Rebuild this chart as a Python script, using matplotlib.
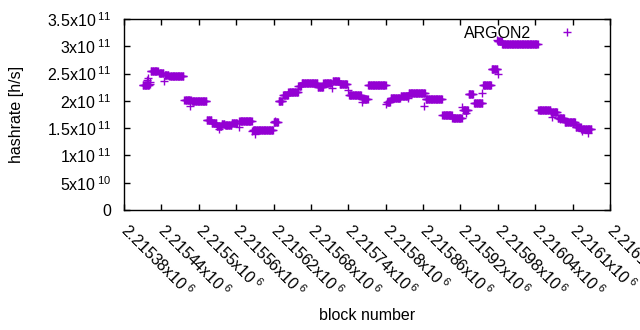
import numpy as np
import matplotlib
matplotlib.use("Agg")
import matplotlib.pyplot as plt
from matplotlib.ticker import FuncFormatter, MultipleLocator

plt.rcParams['font.family'] = ['Liberation Sans', 'DejaVu Sans']
plt.rcParams['mathtext.fontset'] = 'custom'
plt.rcParams['mathtext.rm'] = 'Liberation Sans'
plt.rcParams['mathtext.it'] = 'Liberation Sans'
plt.rcParams['font.size'] = 11.5

# hashrate plateaus: first block, last block, hashrate (x1e11 h/s)
seg_start = [2215410, 2215423, 2215436, 2215445, 2215453, 2215477, 2215489, 2215513,
             2215521, 2215529, 2215537, 2215542, 2215553, 2215565, 2215587, 2215620,
             2215628, 2215635, 2215644, 2215660, 2215665, 2215691, 2215700, 2215715,
             2215726, 2215741, 2215762, 2215772, 2215802, 2215808, 2215824, 2215837,
             2215864, 2215891, 2215907, 2215924, 2215933, 2215942, 2215956, 2215970,
             2215980, 2215987, 2216045, 2216065, 2216076, 2216087, 2216105, 2216114]
seg_end = [2215420, 2215434, 2215443, 2215451, 2215475, 2215487, 2215512, 2215520,
           2215528, 2215536, 2215541, 2215552, 2215561, 2215585, 2215619, 2215627,
           2215634, 2215643, 2215659, 2215664, 2215690, 2215699, 2215712, 2215725,
           2215738, 2215760, 2215771, 2215800, 2215807, 2215823, 2215836, 2215863,
           2215890, 2215906, 2215922, 2215932, 2215940, 2215955, 2215969, 2215979,
           2215986, 2216044, 2216064, 2216075, 2216086, 2216104, 2216113, 2216130]
seg_rate = [2.29, 2.55, 2.51, 2.48, 2.455, 2.02, 2.00, 1.65,
            1.60, 1.54, 1.57, 1.55, 1.60, 1.635, 1.46, 1.62,
            2.00, 2.11, 2.17, 2.27, 2.33, 2.26, 2.33, 2.36,
            2.31, 2.10, 2.04, 2.29, 1.97, 2.05, 2.09, 2.145,
            2.035, 1.745, 1.69, 1.835, 2.13, 1.965, 2.29, 2.59,
            3.10, 3.035, 1.835, 1.79, 1.68, 1.62, 1.525, 1.485]

# single blocks off the plateaus
odd_block = [2215417, 2215418, 2215421, 2215422, 2215444, 2215486, 2215532, 2215565,
             2215585, 2215590, 2215622, 2215714, 2215740, 2215762, 2215800, 2215836,
             2215861, 2215922, 2215929, 2215955, 2215979, 2215980, 2216067, 2216080,
             2216101, 2216115, 2216125]
odd_rate = [2.39, 2.42, 2.35, 2.31, 2.37, 1.90, 1.49, 1.53,
            1.44, 1.40, 1.64, 2.24, 2.19, 1.97, 1.95, 2.06,
            1.90, 1.88, 1.77, 2.15, 3.12, 2.50, 1.71, 1.66,
            1.59, 1.44, 1.42]

blocks = []
rates = []
for s, e, r in zip(seg_start, seg_end, seg_rate):
    b = np.arange(s, e + 1)
    blocks.append(b)
    rates.append(np.full(len(b), r))
blocks = np.concatenate(blocks + [np.array(odd_block)])
rates = np.concatenate(rates + [np.array(odd_rate)]) * 1e11


def sci(v, pos=None):
    # gnuplot style "2.5x10 11"
    if v == 0:
        return '0'
    exp = int(np.floor(np.log10(abs(v)) + 1e-9))
    mant = v / 10 ** exp
    return f'{mant:g}x10$\\,^{{{exp}}}$'


fig = plt.figure(figsize=(6.4, 3.3), dpi=100)
ax = fig.add_axes([124 / 640, 1 - 210 / 330, 486 / 640, 191 / 330])

ax.plot(blocks, rates, '+', color='#9400d3', markersize=6, mew=1.0, label='ARGON2')

ax.set_xlim(2215380, 2216160)
ax.set_ylim(0, 3.5e11)
ax.xaxis.set_major_locator(MultipleLocator(60))
ax.yaxis.set_major_locator(MultipleLocator(5e10))
ax.xaxis.set_major_formatter(FuncFormatter(sci))
ax.yaxis.set_major_formatter(FuncFormatter(sci))
ax.tick_params(direction='in', length=4, width=1, top=True, right=True)
ax.tick_params(axis='y', pad=9)
ax.tick_params(axis='x', pad=12)
for lab in ax.get_xticklabels():
    lab.set_rotation(-45)
    lab.set_ha('left')
    lab.set_va('center')
    lab.set_rotation_mode('anchor')
for sp in ax.spines.values():
    sp.set_linewidth(1.0)

ax.set_xlabel('block number')
ax.xaxis.set_label_coords(0.5, -0.515)
ax.set_ylabel('hashrate [h/s]')
ax.yaxis.set_label_coords(-0.205, 0.5)

ax.legend(loc='upper right', bbox_to_anchor=(583 / 640, 1 - 26 / 330),
          bbox_transform=fig.transFigure, frameon=False, markerfirst=False,
          handlelength=2, handletextpad=1.25, borderpad=0, borderaxespad=0)

fig.savefig('out.png', dpi=100)
